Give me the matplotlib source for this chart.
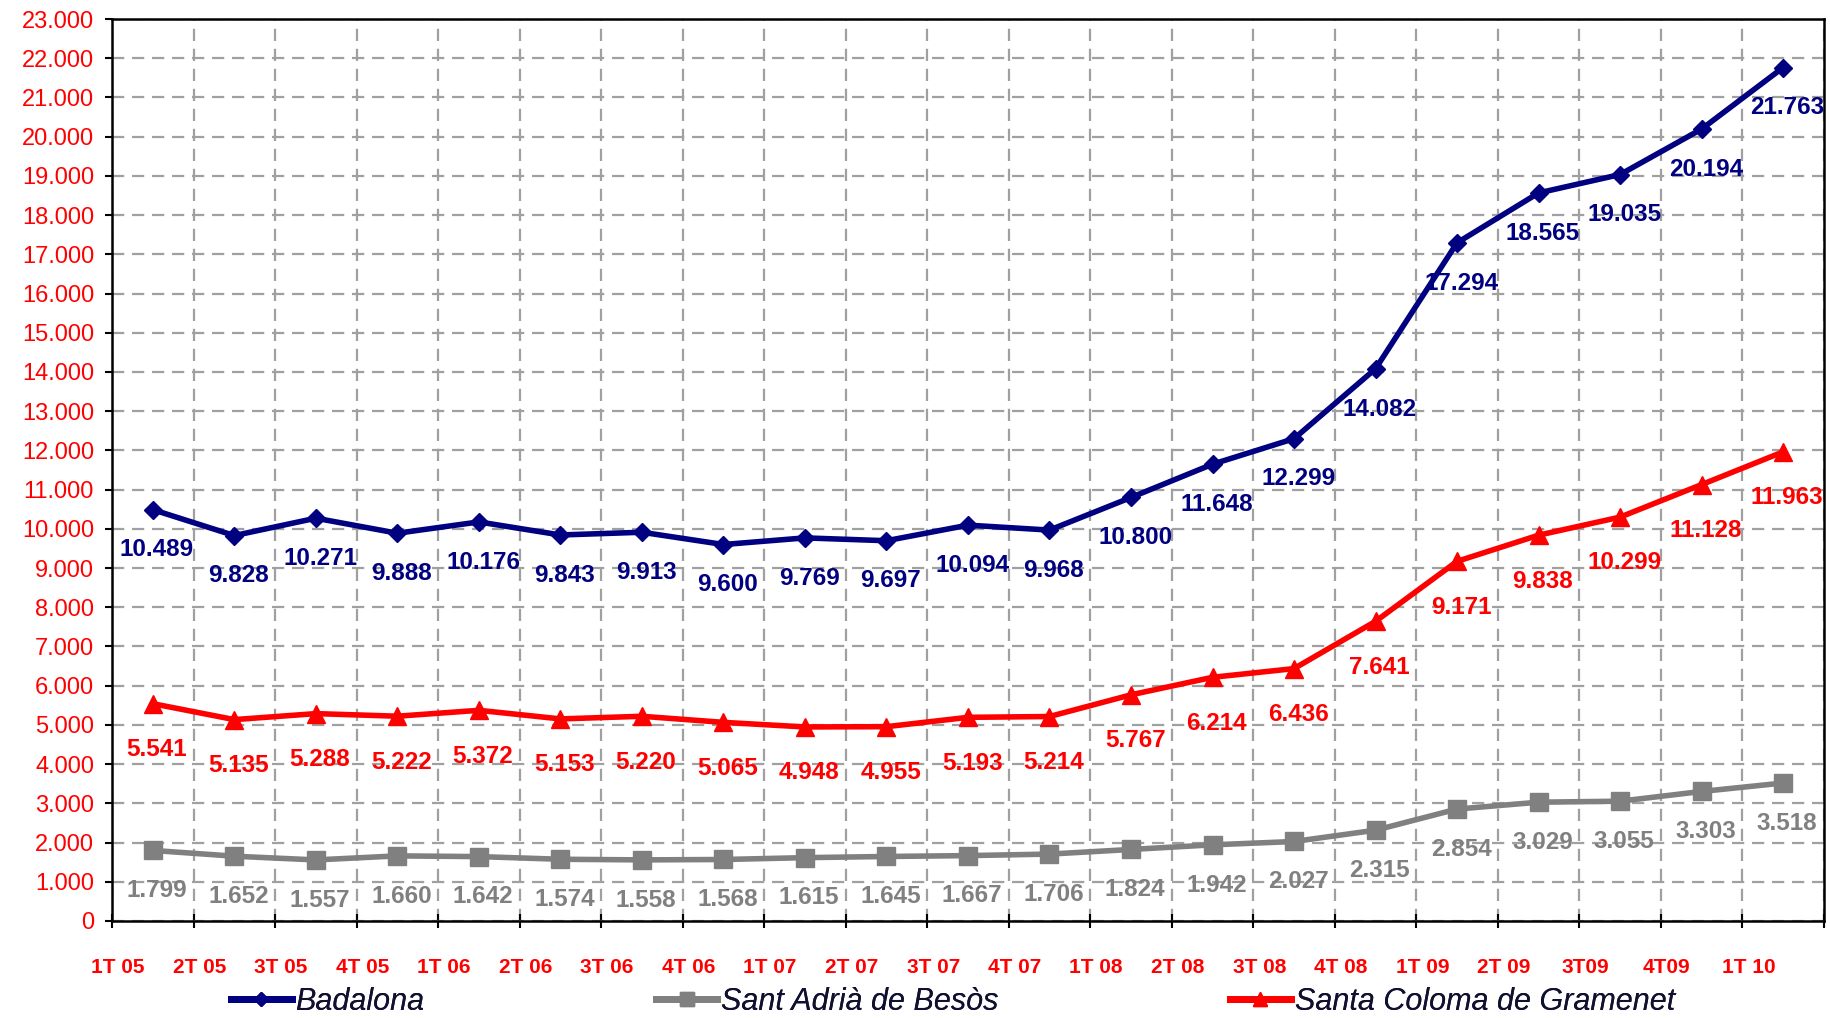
import numpy as np
import matplotlib
matplotlib.use("Agg")
import matplotlib.pyplot as plt
from matplotlib.lines import Line2D
from matplotlib.ticker import FuncFormatter
from matplotlib.transforms import ScaledTranslation

plt.rcParams['font.family'] = ['Liberation Sans', 'DejaVu Sans']

# data
quarters = ['1T 05', '2T 05', '3T 05', '4T 05', '1T 06', '2T 06', '3T 06', '4T 06',
            '1T 07', '2T 07', '3T 07', '4T 07', '1T 08', '2T 08', '3T 08', '4T 08',
            '1T 09', '2T 09', '3T09', '4T09', '1T 10']
badalona = [10489, 9828, 10271, 9888, 10176, 9843, 9913, 9600, 9769, 9697, 10094,
            9968, 10800, 11648, 12299, 14082, 17294, 18565, 19035, 20194, 21763]
sant_adria = [1799, 1652, 1557, 1660, 1642, 1574, 1558, 1568, 1615, 1645, 1667,
              1706, 1824, 1942, 2027, 2315, 2854, 3029, 3055, 3303, 3518]
santa_coloma = [5541, 5135, 5288, 5222, 5372, 5153, 5220, 5065, 4948, 4955, 5193,
                5214, 5767, 6214, 6436, 7641, 9171, 9838, 10299, 11128, 11963]
series_names = ['Badalona', 'Sant Adrià de Besòs', 'Santa Coloma de Gramenet']


def fmt(v):
    return f"{int(v):,}".replace(",", ".")


fig = plt.figure(figsize=(18.31, 10.18), dpi=100)
ax = fig.add_axes([0.0612, 0.0953, 0.9349, 0.886])

x = np.arange(len(quarters))
styles = [
    (badalona, '#000080', 'D', 9, 29),
    (sant_adria, '#808080', 's', 13, 29),
    (santa_coloma, '#ff0000', '^', 13, 33),
]
handles = []
for (vals, col, mk, ms, dy), name in zip(styles, series_names):
    h, = ax.plot(x, vals, color=col, lw=4, marker=mk, ms=ms, zorder=3,
                 solid_capstyle='round', label=name)
    handles.append(h)
    for xi, v in zip(x, vals):
        ax.annotate(fmt(v), (xi, v), xytext=(3, -dy), textcoords='offset points',
                    ha='center', va='center', fontsize=17.5, fontweight='bold',
                    color=col, zorder=4)

# axes
ax.set_xlim(-0.5, len(quarters) - 0.5)
ax.set_ylim(0, 23000)
ax.set_yticks(np.arange(0, 23001, 1000))
ax.yaxis.set_major_formatter(FuncFormatter(lambda v, p: fmt(v)))
ax.tick_params(axis='y', direction='out', length=5, width=1.5, pad=8,
               labelsize=17, labelcolor='#ff0000')

bounds = np.arange(len(quarters) + 1) - 0.5
ax.set_xticks(bounds, labels=quarters + [''])
ax.tick_params(axis='x', direction='inout', length=10, width=1.5, pad=22,
               labelsize=15, labelcolor='#ff0000')
off = ScaledTranslation(6 / 100, 0, fig.dpi_scale_trans)
for lab in ax.get_xticklabels():
    lab.set_fontweight('bold')
    lab.set_transform(lab.get_transform() + off)

ax.grid(True, color='#a0a0a0', lw=1.6, ls=(0, (5.5, 3.5)), zorder=0)
for sp in ax.spines.values():
    sp.set_linewidth(1.8)
    sp.set_color('black')

# legend, three separate entries
leg_x = [0.126, 0.3584, 0.6717]
for h, lx in zip(handles, leg_x):
    lh = Line2D([], [], color=h.get_color(), lw=5, marker=h.get_marker(),
                ms=h.get_markersize() * 0.8)
    leg = fig.legend(handles=[lh], labels=[h.get_label()], loc='center left',
                     bbox_to_anchor=(lx, 0.0157), frameon=False, borderpad=0,
                     borderaxespad=0, handlelength=2.0, handletextpad=0.12,
                     numpoints=1, prop={'size': 22, 'style': 'italic'})
    for t in leg.get_texts():
        t.set_color('#101030')
    fig.add_artist(leg)

fig.savefig('out.png', dpi=100)
